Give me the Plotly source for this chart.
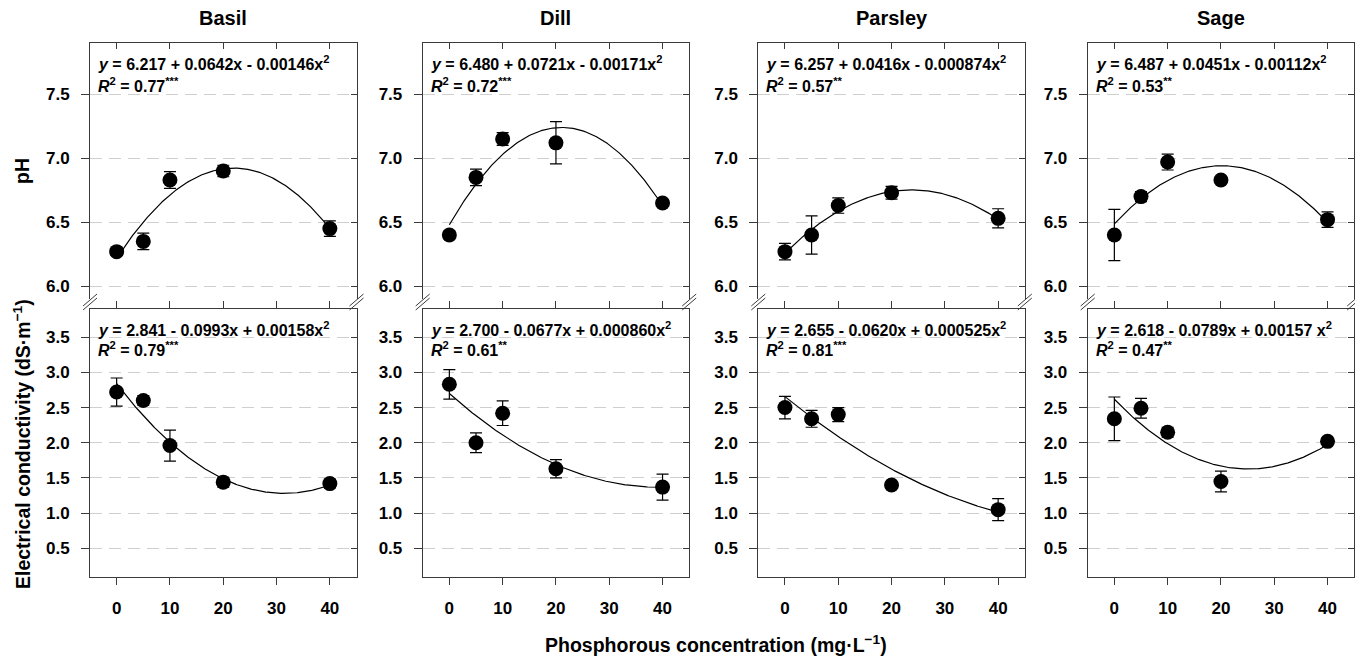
import numpy as np
import plotly.graph_objects as go

# page body has an 8px margin; the figure is sized so that it fills the 1363x659 window
OFF = 8
W, H = 1363 - OFF, 659 - OFF

species = ["Basil", "Dill", "Parsley", "Sage"]
p_conc = [0, 5, 10, 20, 40]
x_ticks = [0, 10, 20, 30, 40]
ph_ticks = [6.0, 6.5, 7.0, 7.5]
ec_ticks = [0.5, 1.0, 1.5, 2.0, 2.5, 3.0, 3.5]

# pH means and error bars
basil_ph = [6.27, 6.35, 6.83, 6.90, 6.45]
basil_ph_err = [0.03, 0.065, 0.065, 0.045, 0.06]
dill_ph = [6.40, 6.85, 7.15, 7.12, 6.65]
dill_ph_err = [0.03, 0.065, 0.05, 0.165, 0.025]
parsley_ph = [6.27, 6.40, 6.63, 6.73, 6.53]
parsley_ph_err = [0.065, 0.15, 0.06, 0.05, 0.075]
sage_ph = [6.40, 6.70, 6.97, 6.83, 6.52]
sage_ph_err = [0.20, 0.04, 0.062, 0.025, 0.06]

# Electrical conductivity means and error bars
basil_ec = [2.72, 2.60, 1.96, 1.44, 1.42]
basil_ec_err = [0.20, 0.065, 0.22, 0.07, 0.06]
dill_ec = [2.83, 2.00, 2.42, 1.63, 1.37]
dill_ec_err = [0.21, 0.14, 0.175, 0.13, 0.185]
parsley_ec = [2.50, 2.34, 2.40, 1.40, 1.05]
parsley_ec_err = [0.16, 0.12, 0.10, 0.03, 0.157]
sage_ec = [2.34, 2.49, 2.15, 1.45, 2.02]
sage_ec_err = [0.31, 0.14, 0.07, 0.147, 0.04]

# quadratic fit coefficients (a + b x + c x^2)
ph_coef = [[6.217, 0.0642, -0.00146], [6.480, 0.0721, -0.00171],
           [6.257, 0.0416, -0.000874], [6.487, 0.0451, -0.00112]]
ec_coef = [[2.841, -0.0993, 0.00158], [2.700, -0.0677, 0.000860],
           [2.655, -0.0620, 0.000525], [2.618, -0.0789, 0.00157]]

ph_eq = ["<i>y</i> = 6.217 + 0.0642x - 0.00146x<sup>2</sup>",
         "<i>y</i> = 6.480 + 0.0721x - 0.00171x<sup>2</sup>",
         "<i>y</i> = 6.257 + 0.0416x - 0.000874x<sup>2</sup>",
         "<i>y</i> = 6.487 + 0.0451x - 0.00112x<sup>2</sup>"]
ph_r2 = ["<i>R</i><sup>2</sup> = 0.77<sup>***</sup>", "<i>R</i><sup>2</sup> = 0.72<sup>***</sup>",
         "<i>R</i><sup>2</sup> = 0.57<sup>**</sup>", "<i>R</i><sup>2</sup> = 0.53<sup>**</sup>"]
ec_eq = ["<i>y</i> = 2.841 - 0.0993x + 0.00158x<sup>2</sup>",
         "<i>y</i> = 2.700 - 0.0677x + 0.000860x<sup>2</sup>",
         "<i>y</i> = 2.655 - 0.0620x + 0.000525x<sup>2</sup>",
         "<i>y</i> = 2.618 - 0.0789x + 0.00157 x<sup>2</sup>"]
ec_r2 = ["<i>R</i><sup>2</sup> = 0.79<sup>***</sup>", "<i>R</i><sup>2</sup> = 0.61<sup>**</sup>",
         "<i>R</i><sup>2</sup> = 0.81<sup>***</sup>", "<i>R</i><sup>2</sup> = 0.47<sup>**</sup>"]

ph_means = [basil_ph, dill_ph, parsley_ph, sage_ph]
ph_errs = [basil_ph_err, dill_ph_err, parsley_ph_err, sage_ph_err]
ec_means = [basil_ec, dill_ec, parsley_ec, sage_ec]
ec_errs = [basil_ec_err, dill_ec_err, parsley_ec_err, sage_ec_err]

# ---- layout geometry (window pixels) ----
FONT = "Liberation Sans, Arial, Helvetica, sans-serif"
LINE = "#3a3a3a"
GRID = "#cfcfcf"
lefts = [90.0, 422.7, 758.3, 1087.7]
PW = 266.5
rows = [(43.0, 299.0), (309.0, 576.5)]


def px_x(p):
    return (p - OFF) / W


def px_y(p):
    return 1 - (p - OFF) / H


fig = go.Figure()
layout = dict(width=W, height=H, margin=dict(l=0, r=0, t=0, b=0),
              paper_bgcolor="white", plot_bgcolor="white", showlegend=False,
              font=dict(family=FONT, color="black"))
annotations = []
shapes = []

xs = np.linspace(0, 40, 201)
TICKFONT = dict(size=17, family=FONT, weight="bold", color="black")

for r in range(2):
    top, bot = rows[r]
    for c in range(4):
        k = r * 4 + c + 1
        ko = k + 8
        xdom = [px_x(lefts[c]), px_x(lefts[c] + PW)]
        ydom = [px_y(bot), px_y(top)]
        if r == 0:
            means, errs, coef = ph_means[c], ph_errs[c], ph_coef[c]
            yr, yt = [5.9, 7.9], ph_ticks
        else:
            means, errs, coef = ec_means[c], ec_errs[c], ec_coef[c]
            yr, yt = [0.1, 3.9], ec_ticks
        xa = "x" if k == 1 else f"x{k}"
        ya = "y" if k == 1 else f"y{k}"
        a, b, cc = coef
        fig.add_trace(go.Scatter(x=xs, y=a + b * xs + cc * xs ** 2, mode="lines",
                                 line=dict(color="black", width=1.2),
                                 xaxis=xa, yaxis=ya, hoverinfo="skip"))
        fig.add_trace(go.Scatter(x=p_conc, y=means, mode="markers",
                                 marker=dict(color="black", size=15),
                                 error_y=dict(type="data", array=errs, color="black",
                                              thickness=1.2, width=6),
                                 xaxis=xa, yaxis=ya))
        fig.add_trace(go.Scatter(x=[None], y=[None], xaxis=f"x{ko}", yaxis=f"y{ko}",
                                 hoverinfo="skip", showlegend=False))

        xcfg = dict(domain=xdom, anchor=ya, range=[-5, 45], tickvals=x_ticks,
                    showgrid=False, zeroline=False, fixedrange=True)
        if r == 1:
            xcfg.update(showline=True, linecolor=LINE, linewidth=1, mirror="ticks",
                        ticks="outside", ticklen=7, tickcolor=LINE,
                        showticklabels=True, ticklabelstandoff=9, tickfont=TICKFONT)
        else:
            xcfg.update(showline=False, ticks="", showticklabels=False)
        layout["xaxis" if k == 1 else f"xaxis{k}"] = xcfg

        ycfg = dict(domain=ydom, anchor=xa, range=yr, tickvals=yt,
                    ticktext=[f"{v:.1f}" for v in yt],
                    showline=True, linecolor=LINE, linewidth=1,
                    ticks="outside", ticklen=8, tickcolor=LINE,
                    showgrid=True, gridcolor=GRID, griddash="12px,7px", gridwidth=1,
                    zeroline=False, ticklabelstandoff=8, fixedrange=True,
                    tickfont=TICKFONT)
        layout["yaxis" if k == 1 else f"yaxis{k}"] = ycfg

        # overlay axes: top border ticks (top row) and right border ticks (inside)
        oxcfg = dict(overlaying=xa, anchor=f"y{ko}", side="top", range=[-5, 45],
                     tickvals=x_ticks, showticklabels=False, showgrid=False,
                     zeroline=False, fixedrange=True)
        if r == 0:
            oxcfg.update(showline=True, linecolor=LINE, linewidth=1, ticks="inside",
                         ticklen=6, tickcolor=LINE)
        else:
            oxcfg.update(showline=False, ticks="")
        layout[f"xaxis{ko}"] = oxcfg
        layout[f"yaxis{ko}"] = dict(overlaying=ya, anchor=f"x{ko}", side="right", range=yr,
                                    tickvals=yt, showticklabels=False, showgrid=False,
                                    zeroline=False, showline=True, linecolor=LINE,
                                    linewidth=1, ticks="inside", ticklen=6,
                                    tickcolor=LINE, fixedrange=True)

        # equation annotations
        eq = ph_eq[c] if r == 0 else ec_eq[c]
        r2 = ph_r2[c] if r == 0 else ec_r2[c]
        off1, off2 = (20, 42) if r == 0 else (20, 40)
        for txt, off in ((eq, off1), (r2, off2)):
            annotations.append(dict(text=txt, xref="paper", yref="paper",
                                    x=px_x(lefts[c] + 6), y=px_y(top + off),
                                    xanchor="left", yanchor="middle", showarrow=False,
                                    font=dict(size=16, family=FONT, weight="bold",
                                              color="black")))

# panel titles
for c, name in enumerate(species):
    annotations.append(dict(text=name, xref="paper", yref="paper",
                            x=px_x(lefts[c] + PW / 2), y=px_y(18), xanchor="center",
                            yanchor="middle", showarrow=False,
                            font=dict(size=20, family=FONT, weight="bold", color="black")))

# axis titles
TITLEFONT = dict(size=19.5, family=FONT, weight="bold", color="black")
annotations.append(dict(text="pH", xref="paper", yref="paper", x=px_x(22),
                        y=px_y((rows[0][0] + rows[0][1]) / 2), textangle=-90,
                        xanchor="center", yanchor="middle", showarrow=False,
                        font=TITLEFONT))
annotations.append(dict(text="Electrical conductivity (dS·m<sup>−1</sup>)", xref="paper",
                        yref="paper", x=px_x(22), y=px_y(444), textangle=-90,
                        xanchor="center", yanchor="middle", showarrow=False,
                        font=TITLEFONT))
annotations.append(dict(text="Phosphorous concentration (mg·L<sup>−1</sup>)", xref="paper",
                        yref="paper", x=px_x(716), y=px_y(644), xanchor="center",
                        yanchor="middle", showarrow=False, font=TITLEFONT))

# axis break marks
for c in range(4):
    for xe in (lefts[c], lefts[c] + PW):
        for dy in (0, 4):
            shapes.append(dict(type="line", xref="paper", yref="paper",
                               x0=px_x(xe - 7), y0=px_y(306 + dy),
                               x1=px_x(xe + 7), y1=px_y(294 + dy),
                               line=dict(color=LINE, width=1)))

layout["annotations"] = annotations
layout["shapes"] = shapes
fig.update_layout(**layout)
fig.write_html("out.html")
